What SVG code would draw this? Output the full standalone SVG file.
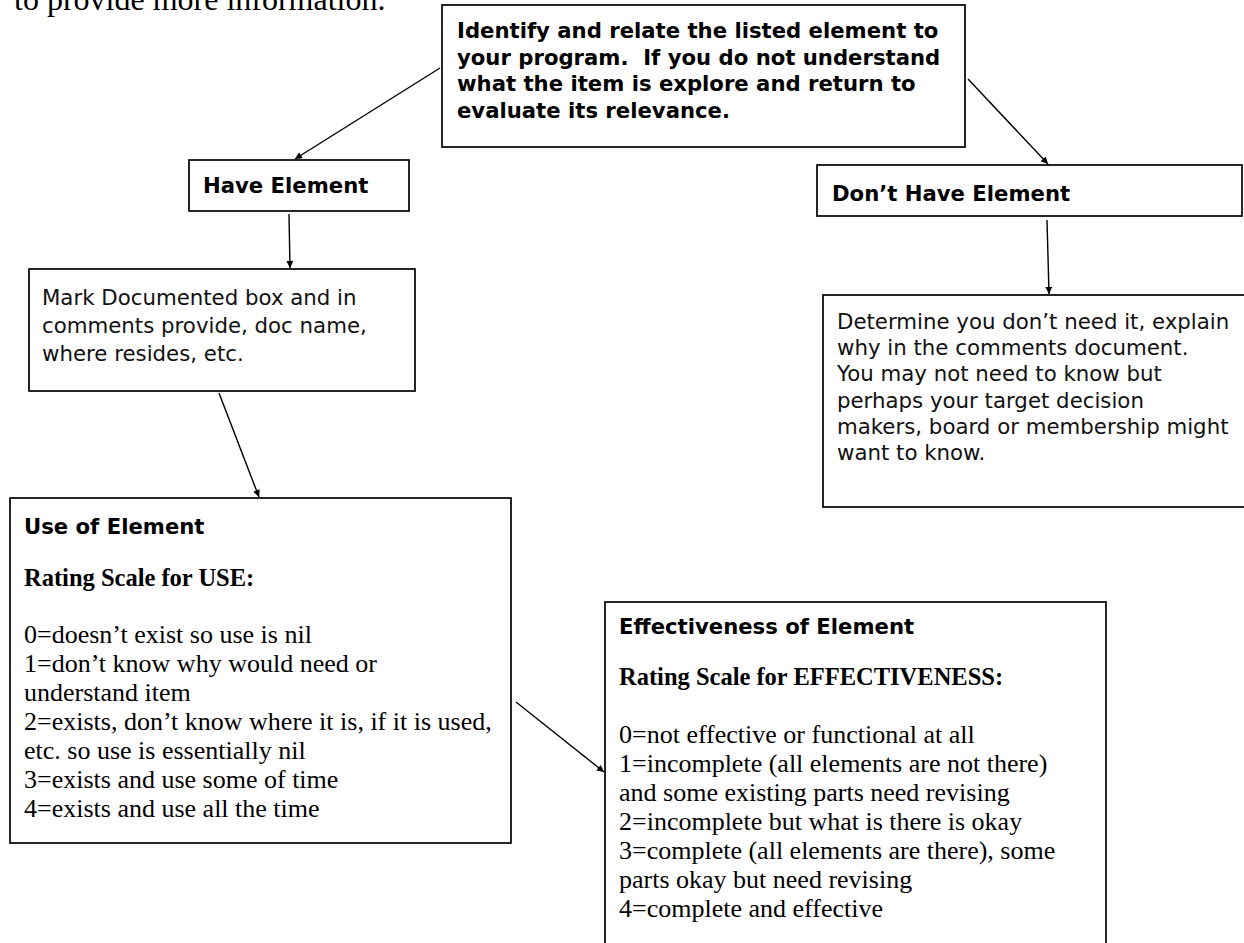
<svg xmlns="http://www.w3.org/2000/svg" width="1244" height="943" viewBox="0 0 1244 943">
<style>
.box{fill:#fff;stroke:#000;stroke-width:1.7}
.sb{font-family:"DejaVu Sans","Liberation Sans",sans-serif;font-weight:bold;font-size:21.2px;fill:#000}
.s{font-family:"DejaVu Sans","Liberation Sans",sans-serif;font-size:21.3px;fill:#111}
.rb{font-family:"Liberation Serif",serif;font-weight:bold;font-size:24.5px;fill:#000}
.r{font-family:"Liberation Serif",serif;font-size:26px;fill:#000}
.hd{font-family:"Liberation Serif",serif;font-size:32px;fill:#000}
.conn line{stroke:#000;stroke-width:1.4;marker-end:url(#ah)}
</style>
<defs>
<marker id="ah" viewBox="0 0 10 10" refX="10" refY="5" markerWidth="8" markerHeight="7" orient="auto" markerUnits="userSpaceOnUse">
<path d="M0,0 L10,5 L0,10 z" fill="#000"/>
</marker>
</defs>
<rect width="1244" height="943" fill="#fff"/>
<text class="hd" x="14" y="10">to provide more information.</text>

<g id="node-identify">
<rect class="box" x="442" y="5" width="523" height="142"/>
<text class="sb" x="457" y="38">Identify and relate the listed element to</text>
<text class="sb" x="457" y="64.5" xml:space="preserve">your program.  If you do not understand</text>
<text class="sb" x="457" y="91">what the item is explore and return to</text>
<text class="sb" x="457" y="117.5">evaluate its relevance.</text>
</g>

<g id="node-have">
<rect class="box" x="189" y="160" width="220" height="51"/>
<text class="sb" x="203" y="193">Have Element</text>
</g>

<g id="node-donthave">
<rect class="box" x="817" y="165" width="425" height="51"/>
<text class="sb" x="832" y="201">Don’t Have Element</text>
</g>

<g id="node-mark">
<rect class="box" x="29" y="269" width="386" height="122"/>
<text class="s" x="42" y="305">Mark Documented box and in</text>
<text class="s" x="42" y="333">comments provide, doc name,</text>
<text class="s" x="42" y="361">where resides, etc.</text>
</g>

<g id="node-determine">
<rect class="box" x="823" y="295" width="440" height="212"/>
<text class="s" x="837" y="329">Determine you don’t need it, explain</text>
<text class="s" x="837" y="355">why in the comments document.</text>
<text class="s" x="837" y="381">You may not need to know but</text>
<text class="s" x="837" y="408">perhaps your target decision</text>
<text class="s" x="837" y="434">makers, board or membership might</text>
<text class="s" x="837" y="460">want to know.</text>
</g>

<g id="node-use">
<rect class="box" x="10" y="498" width="501" height="345"/>
<text class="sb" x="24" y="534">Use of Element</text>
<text class="rb" x="24" y="586">Rating Scale for USE:</text>
<text class="r" x="24" y="643">0=doesn’t exist so use is nil</text>
<text class="r" x="24" y="672">1=don’t know why would need or</text>
<text class="r" x="24" y="701">understand item</text>
<text class="r" x="24" y="730">2=exists, don’t know where it is, if it is used,</text>
<text class="r" x="24" y="759">etc. so use is essentially nil</text>
<text class="r" x="24" y="788">3=exists and use some of time</text>
<text class="r" x="24" y="817">4=exists and use all the time</text>
</g>

<g id="node-effect">
<rect class="box" x="605" y="602" width="501" height="360"/>
<text class="sb" x="619" y="634">Effectiveness of Element</text>
<text class="rb" x="619" y="685">Rating Scale for EFFECTIVENESS:</text>
<text class="r" x="619" y="743">0=not effective or functional at all</text>
<text class="r" x="619" y="772">1=incomplete (all elements are not there)</text>
<text class="r" x="619" y="801">and some existing parts need revising</text>
<text class="r" x="619" y="830">2=incomplete but what is there is okay</text>
<text class="r" x="619" y="859">3=complete (all elements are there), some</text>
<text class="r" x="619" y="888">parts okay but need revising</text>
<text class="r" x="619" y="917">4=complete and effective</text>
</g>

<g id="connectors" class="conn">
<line x1="440" y1="68" x2="295" y2="159"/>
<line x1="968" y1="79" x2="1048" y2="164"/>
<line x1="289" y1="214" x2="290" y2="268"/>
<line x1="1047" y1="220" x2="1049" y2="294"/>
<line x1="219" y1="393" x2="259" y2="497"/>
<line x1="516" y1="702" x2="604" y2="772"/>
</g>
</svg>
